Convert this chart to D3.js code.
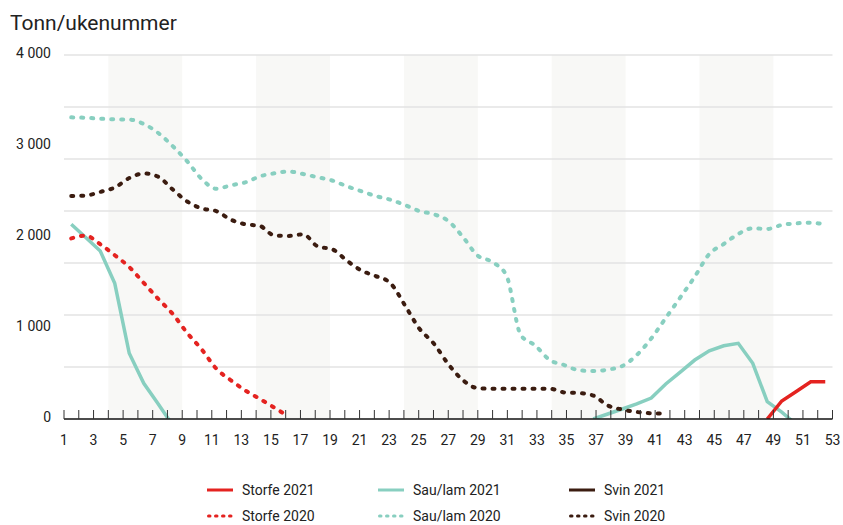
<!DOCTYPE html>
<html>
<head>
<meta charset="utf-8">
<script src="https://cdn.jsdelivr.net/npm/d3@7"></script>
<style>
  body { margin: 0; background: #fff; }
  svg text { font-family: Roboto, sans-serif; fill: #222; }
</style>
</head>
<body>
<svg width="843" height="525"></svg>
<script>
// uke 1-53
const weeks = d3.range(1, 54);
const yTicks = [0, 1000, 2000, 3000, 4000];
const xTickLabels = d3.range(1, 54, 2);
const shadedWeeks = [[4, 9], [14, 19], [24, 29], [34, 39], [44, 49]];

// tonn per uke, hver serie starter på en gitt uke
const storfe2021Start = 49;
const storfe2021 = [0, 198, 302, 410, 410];
const sauLam2021aStart = 1;
const sauLam2021a = [2140, 1995, 1846, 1491, 722, 392, 165, -70];
const sauLam2021bStart = 37;
const sauLam2021b = [0, 55, 110, 165, 230, 385, 516, 648, 750, 805, 832, 612, 190, 75, -60];
const svin2021Start = 1;
const svin2021 = [];
const storfe2020Start = 1;
const storfe2020 = [1985, 2015, 1920, 1800, 1670, 1495, 1320, 1154, 945, 764, 554, 426, 314, 221, 125, 25];
const sauLam2020Start = 1;
const sauLam2020 = [3315, 3310, 3300, 3293, 3291, 3242, 3143, 2998, 2831, 2637, 2530, 2568, 2600, 2666, 2700, 2720,
  2692, 2656, 2621, 2558, 2503, 2450, 2410, 2352, 2286, 2250, 2176, 2003, 1800, 1728, 1582, 923, 808, 648, 593,
  536, 527, 543, 582, 703, 885, 1110, 1335, 1564, 1813, 1923, 2033, 2096, 2088, 2132, 2150, 2157, 2137];
const svin2020Start = 1;
const svin2020 = [2451, 2456, 2495, 2544, 2648, 2698, 2662, 2522, 2390, 2314, 2285, 2191, 2140, 2122, 2018, 2012,
  2030, 1896, 1865, 1742, 1632, 1571, 1495, 1253, 995, 830, 604, 429, 340, 333, 333, 333, 333, 333, 292, 285,
  258, 148, 104, 77, 63, 60];

const legendNames = ["Storfe 2021", "Sau/lam 2021", "Svin 2021", "Storfe 2020", "Sau/lam 2020", "Svin 2020"];

const red = "#e42320", teal = "#88cfc0", brown = "#3b1c10";

const svg = d3.select("svg");
const margin = { top: 55, right: 10.5, bottom: 106, left: 64 };
const width = +svg.attr("width") - margin.left - margin.right;
const height = +svg.attr("height") - margin.top - margin.bottom;

const g = svg.append("g").attr("transform", `translate(${margin.left},${margin.top})`);

// akse-skala (ukenummer) og punkt-skala for dataene
const x = d3.scaleLinear().domain([1, 53]).range([0, width]);
const xData = d3.scalePoint().domain(weeks).range([0, width]).padding(0.5);
const y = d3.scaleLinear().domain([0, 4000]).range([height, 0]);

// grå felt
g.selectAll(".band")
  .data(shadedWeeks)
  .join("rect")
  .attr("x", d => x(d[0]))
  .attr("width", d => x(d[1]) - x(d[0]))
  .attr("y", 0)
  .attr("height", height)
  .attr("fill", "#f8f8f6");

// rutenett, 7 linjer
const grid = d3.range(1, 8).map(i => height - i * height / 7);
g.selectAll(".grid")
  .data(grid)
  .join("line")
  .attr("x1", 0)
  .attr("x2", width)
  .attr("y1", d => d)
  .attr("y2", d => d)
  .attr("stroke", "#e3e3e3")
  .attr("stroke-width", 1.5);

// y-etiketter
const fmt = d3.formatLocale({ decimal: ",", thousands: " ", grouping: [3], currency: ["", ""] }).format(",");
g.selectAll(".ylab")
  .data(yTicks)
  .join("text")
  .attr("x", -13)
  .attr("y", d => y(d) - 2)
  .attr("dy", "0.35em")
  .attr("text-anchor", "end")
  .attr("font-size", 14)
  .text(d => fmt(d));

// linjer
svg.append("defs").append("clipPath").attr("id", "plot")
  .append("rect").attr("x", 0).attr("y", -10).attr("width", width + 1).attr("height", height + 10);

const toPoints = (start, vals) => vals.map((v, i) => ({ week: start + i, value: v }));

const series = [
  { pts: toPoints(sauLam2021aStart, sauLam2021a), color: teal, dotted: false },
  { pts: toPoints(sauLam2021bStart, sauLam2021b), color: teal, dotted: false },
  { pts: toPoints(svin2021Start, svin2021), color: brown, dotted: false },
  { pts: toPoints(storfe2021Start, storfe2021), color: red, dotted: false },
  { pts: toPoints(sauLam2020Start, sauLam2020), color: teal, dotted: true },
  { pts: toPoints(svin2020Start, svin2020), color: brown, dotted: true },
  { pts: toPoints(storfe2020Start, storfe2020), color: red, dotted: true }
];

const lineSolid = d3.line().x(d => xData(d.week)).y(d => y(d.value));
const lineDotted = d3.line().x(d => xData(d.week)).y(d => y(d.value)).curve(d3.curveMonotoneX);

g.append("g").attr("clip-path", "url(#plot)")
  .selectAll("path")
  .data(series.filter(s => s.pts.length))
  .join("path")
  .attr("d", s => (s.dotted ? lineDotted : lineSolid)(s.pts))
  .attr("fill", "none")
  .attr("stroke", s => s.color)
  .attr("stroke-width", s => s.dotted ? 4 : 3.5)
  .attr("stroke-linecap", s => s.dotted ? "round" : "butt")
  .attr("stroke-dasharray", s => s.dotted ? "2 8" : null);

// x-akse
const xAxis = g.append("g").attr("transform", `translate(0,${height})`);
xAxis.append("line")
  .attr("x1", 0).attr("x2", width)
  .attr("stroke", "#111").attr("stroke-width", 1.5);
xAxis.selectAll(".tick")
  .data(weeks)
  .join("line")
  .attr("x1", d => x(d)).attr("x2", d => x(d))
  .attr("y1", 0).attr("y2", -9)
  .attr("stroke", "#333").attr("stroke-width", 1);
xAxis.selectAll(".xlab")
  .data(xTickLabels)
  .join("text")
  .attr("x", d => x(d))
  .attr("y", 26)
  .attr("text-anchor", "middle")
  .attr("font-size", 14)
  .text(d => d);

// tittel
svg.append("text")
  .attr("x", 10)
  .attr("y", 30)
  .attr("font-size", 21)
  .text("Tonn/ukenummer");

// legend
const legendCols = [207, 378, 569];
const legendRows = [490, 516];
const legendStyle = [
  { color: red, dotted: false }, { color: teal, dotted: false }, { color: brown, dotted: false },
  { color: red, dotted: true }, { color: teal, dotted: true }, { color: brown, dotted: true }
];
const legend = svg.append("g");
legendNames.forEach((name, i) => {
  const lx = legendCols[i % 3], ly = legendRows[Math.floor(i / 3)];
  const st = legendStyle[i];
  legend.append("line")
    .attr("x1", st.dotted ? lx + 1.5 : lx).attr("x2", lx + 26)
    .attr("y1", ly).attr("y2", ly)
    .attr("stroke", st.color)
    .attr("stroke-width", 3)
    .attr("stroke-linecap", st.dotted ? "round" : "butt")
    .attr("stroke-dasharray", st.dotted ? "1.5 5.5" : null);
  legend.append("text")
    .attr("x", lx + 35)
    .attr("y", ly)
    .attr("dy", "0.35em")
    .attr("font-size", 14)
    .text(name);
});
</script>
</body>
</html>
